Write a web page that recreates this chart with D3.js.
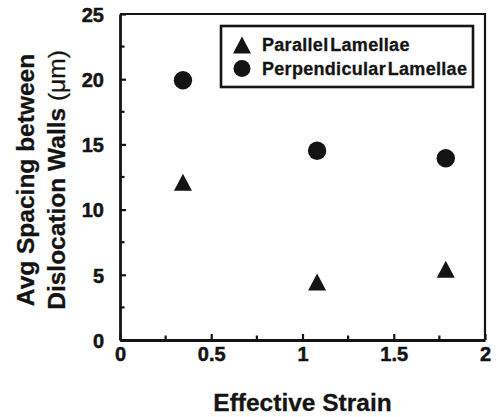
<!DOCTYPE html>
<html>
<head>
<meta charset="utf-8">
<script src="https://cdn.jsdelivr.net/npm/d3@7"></script>
<style>
  html, body { margin: 0; padding: 0; background: #fff; }
  svg { display: block; font-family: "Liberation Sans", Arial, sans-serif; }
</style>
</head>
<body>
<svg id="chart" width="501" height="417"></svg>
<script>
// Effective strain at each measurement
const strain = [0.345, 1.08, 1.785];
// Average spacing between dislocation walls (µm)
const parallelSpacing = [12.1, 4.45, 5.43];
const perpendicularSpacing = [19.92, 14.51, 13.94];
// Axis ticks
const xMajorTicks = [0, 0.5, 1, 1.5, 2];
const xMinorTicks = [0.25, 0.75, 1.25, 1.75];
const yMajorTicks = [0, 5, 10, 15, 20, 25];
const yMinorTicks = [2.5, 7.5, 12.5, 17.5, 22.5];
const seriesNames = ["Parallel Lamellae", "Perpendicular Lamellae"];

const ink = "#141414";
const svg = d3.select("#chart");
const plotLeft = 120, plotRight = 485, plotTop = 14, plotBottom = 340;

const x = d3.scaleLinear().domain([0, 2]).range([plotLeft, plotRight]);
const y = d3.scaleLinear().domain([0, 25]).range([plotBottom, plotTop]);

// Upward-pointing triangle centred on its bounding box
const triangle = {
  draw(ctx, size) {
    const w = Math.sqrt(size), h = w * 0.95;
    ctx.moveTo(0, -h / 2);
    ctx.lineTo(w / 2, h / 2);
    ctx.lineTo(-w / 2, h / 2);
    ctx.closePath();
  }
};
const triPath = d3.symbol().type(triangle).size(18 * 18)();
const dotR = 9.2;

// Frame (top and right borders)
svg.append("path")
  .attr("d", `M${plotLeft},${plotTop}H${plotRight}V${plotBottom}`)
  .attr("fill", "none").attr("stroke", ink).attr("stroke-width", 2.2);

// X axis with inward ticks
const xAxis = svg.append("g").attr("transform", `translate(0,${plotBottom})`)
  .call(d3.axisBottom(x).tickValues(xMajorTicks).tickSizeInner(-6).tickSizeOuter(0)
    .tickPadding(17).tickFormat(d3.format("~g")));
xAxis.append("g").selectAll("line").data(xMinorTicks).join("line")
  .attr("x1", d => x(d)).attr("x2", d => x(d)).attr("y1", 0).attr("y2", -4.5);

// Y axis with inward ticks
const yAxis = svg.append("g").attr("transform", `translate(${plotLeft},0)`)
  .call(d3.axisLeft(y).tickValues(yMajorTicks).tickSizeInner(-6).tickSizeOuter(0)
    .tickPadding(16).tickFormat(d3.format("d")));
yAxis.append("g").selectAll("line").data(yMinorTicks).join("line")
  .attr("x1", 0).attr("x2", 4.5).attr("y1", d => y(d)).attr("y2", d => y(d));

for (const g of [xAxis, yAxis]) {
  g.select(".domain").attr("stroke", ink).attr("stroke-width", 2.8);
  g.selectAll("line").attr("stroke", ink).attr("stroke-width", 2.2);
  g.selectAll("text").attr("fill", ink).attr("font-size", 20).attr("font-weight", "bold")
    .attr("font-family", "Liberation Sans, Arial, sans-serif")
    .attr("stroke", ink).attr("stroke-width", 0.5);
}
xAxis.selectAll(".tick text").attr("dy", "0.2em");
yAxis.selectAll(".tick text").attr("dy", "0.36em");

// Axis titles
svg.append("text")
  .attr("x", (plotLeft + plotRight) / 2).attr("y", 411)
  .attr("text-anchor", "middle").attr("font-size", 24.5).attr("font-weight", "bold")
  .attr("fill", ink).attr("stroke", ink).attr("stroke-width", 0.3).text("Effective Strain");

const yTitle = svg.append("text")
  .attr("transform", `translate(0,${(plotTop + plotBottom) / 2 + 3}) rotate(-90)`)
  .attr("text-anchor", "middle").attr("font-size", 24.5).attr("font-weight", "bold")
  .attr("fill", ink).attr("stroke", ink).attr("stroke-width", 0.3);
yTitle.append("tspan").attr("x", 0).attr("y", 33.5).text("Avg Spacing between");
const line2 = yTitle.append("tspan").attr("x", 0).attr("y", 65);
line2.append("tspan").text("Dislocation Walls ");
line2.append("tspan").attr("font-weight", "normal").text("(\u03bcm)");

// Data markers
svg.append("g").selectAll("path").data(strain).join("path")
  .attr("d", triPath)
  .attr("transform", (d, i) => `translate(${x(d)},${y(parallelSpacing[i])})`)
  .attr("fill", ink);

svg.append("g").selectAll("circle").data(strain).join("circle")
  .attr("cx", d => x(d)).attr("cy", (d, i) => y(perpendicularSpacing[i]))
  .attr("r", dotR).attr("fill", ink);

// Legend
const legend = svg.append("g");
legend.append("rect").attr("x", 221).attr("y", 26).attr("width", 252).attr("height", 61)
  .attr("fill", "#fff").attr("stroke", ink).attr("stroke-width", 2.6);
const rows = legend.selectAll("g.row").data(seriesNames).join("g")
  .attr("class", "row")
  .attr("transform", (d, i) => `translate(242,${45 + i * 23.5})`);
rows.filter((d, i) => i === 0).append("path").attr("d", triPath).attr("fill", ink);
rows.filter((d, i) => i === 1).append("circle").attr("r", 8.5).attr("fill", ink);
rows.append("text").attr("x", 20).attr("dy", "0.36em")
  .attr("font-size", 18).attr("font-weight", "bold")
  .attr("letter-spacing", 0.3).attr("word-spacing", -3.5)
  .attr("stroke", ink).attr("stroke-width", 0.3)
  .attr("fill", ink).text(d => d);
</script>
</body>
</html>
